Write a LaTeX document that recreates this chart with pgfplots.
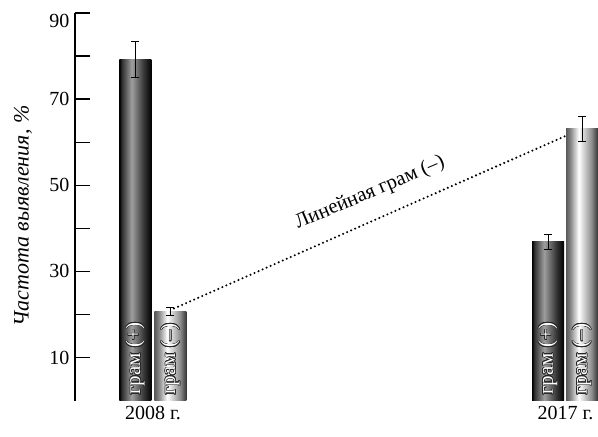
\documentclass[border=0pt]{standalone}
\usepackage{pgfplots}
\pgfplotsset{compat=1.18}
\usepackage{fontspec}
\setmainfont{Liberation Serif}
\usepackage{contour}
\contourlength{0.6pt}
\pgfdeclarehorizontalshading{gplus}{100bp}{color(0bp)=(black); color(25bp)=(black); color(29bp)=(black!80); color(44bp)=(black!38); color(62.5bp)=(black!78); color(75bp)=(black); color(100bp)=(black)}
\pgfdeclarehorizontalshading{gminus}{100bp}{color(0bp)=(black!65); color(25bp)=(black!65); color(31bp)=(black!50); color(45bp)=(white); color(65bp)=(black!45); color(75bp)=(black!80); color(100bp)=(black!80)}
\tikzset{barlab/.style={rotate=90, anchor=west, inner sep=0pt, text=white, font=\fontsize{21}{22}\selectfont}}
\pgfplotsset{gbar/.style={ybar, bar width=32, draw=none, error bars/y dir=both, error bars/y explicit}}
\begin{document}
\begin{tikzpicture}
\begin{axis}[
  scale only axis, width=523pt, height=387.6pt,
  xmin=75, xmax=598, ymin=0, ymax=90,
  clip=false,
  axis lines=left,
  x axis line style={draw=none},
  y axis line style={-, line width=1.5pt},
  ytick={10,20,30,40,50,60,70,80,90},
  yticklabels={10,,30,,50,,70,,\smash{\raisebox{-15pt}{90}}},
  xtick={153,565.5},
  xticklabels={2008 г.,2017 г.},
  x tick style={draw=none},
  y tick style={line width=1.3pt, black},
  tick align=inside,
  major tick length=15pt,
  /pgf/number format/assume math mode=true,
  ticklabel style={font=\fontsize{20}{22}\selectfont},
  yticklabel style={xshift=-2pt},
  xticklabel style={yshift=-2pt},
  ylabel={\itshape Частота выявления, \%},
  ylabel style={at={(axis description cs:0,0.476)}, anchor=center, yshift=52pt, font=\fontsize{22}{24}\selectfont},
  error bars/error bar style={line width=0.8pt, black},
  error bars/error mark options={rotate=90, mark size=4pt, line width=0.8pt},
]
% 2008
\addplot[gbar, shading=gplus] coordinates {(135.5,79.2) +- (0,4.2)};
\addplot[gbar, shading=gminus] coordinates {(170.5,20.7) +- (0,0.9)};
% 2017
\addplot[gbar, shading=gplus] coordinates {(548,36.9) +- (0,1.7)};
\addplot[gbar, shading=gminus] coordinates {(582,63.1) +- (0,3.0)};
\addplot[line width=2.3pt, dash pattern=on 0pt off 4.4pt, line cap=round] coordinates {(174,21.4) (565,61.4)};
\node[rotate=23, font=\fontsize{20.5}{22}\selectfont] at (axis cs:370,48.2) {Линейная грам (--)};
\node[barlab] at (axis cs:135.5,1.3) {\contour{black!85}{грам (+)}};
\node[barlab] at (axis cs:548,1.3) {\contour{black!85}{грам (+)}};
\node[barlab] at (axis cs:170.5,1.3) {\contour{black!85}{грам (--)}};
\node[barlab] at (axis cs:582,1.3) {\contour{black!85}{грам (--)}};
\coordinate (ll) at (rel axis cs:0,0);
\coordinate (ur) at (rel axis cs:1,1);
\end{axis}
\path ([xshift=-75pt,yshift=-36.4pt]ll) rectangle ([yshift=13pt]ur);
\end{tikzpicture}
\end{document}
